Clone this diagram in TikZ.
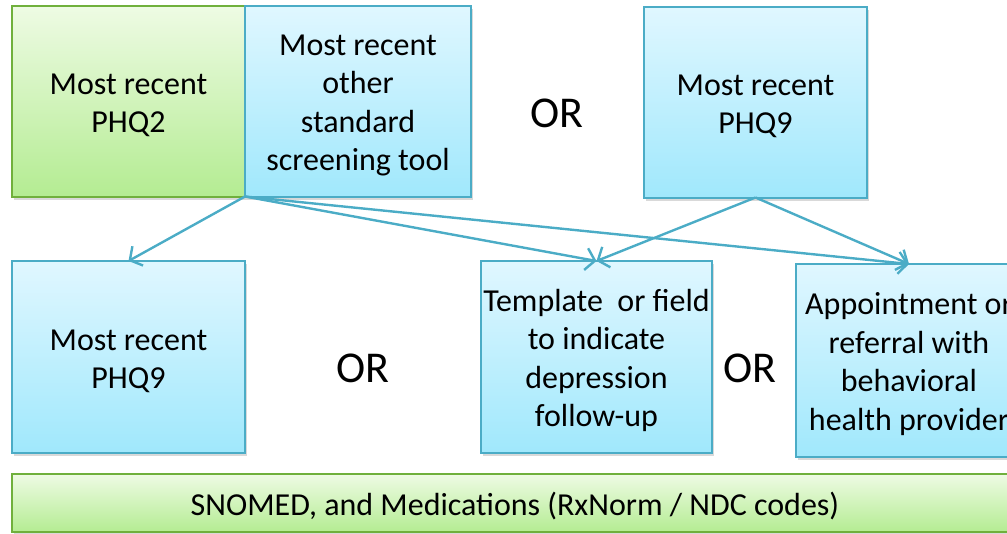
\documentclass[tikz,border=0pt]{standalone}
\usepackage{fontspec}
\setmainfont{Carlito}
\usetikzlibrary{arrows.meta,positioning,shadows}
\definecolor{scrblue}{RGB}{75,172,198}
\definecolor{scrbluetop}{RGB}{224,247,255}
\definecolor{scrbluebot}{RGB}{160,232,252}
\definecolor{scrgreen}{RGB}{112,176,60}
\definecolor{scrgreentop}{RGB}{238,251,228}
\definecolor{scrgreenbot}{RGB}{180,236,146}
\newcommand\boxfont{\fontsize{32}{38.5}\selectfont}
\newcommand\orfont{\fontsize{44}{50}\selectfont}
\newcommand\barfont{\fontsize{32}{36}\selectfont}
\newcommand\padtop{\rule{0pt}{29.5pt}}

\begin{document}
\begin{tikzpicture}[x=1pt,y=-1pt,
    bluebox/.style={draw=scrblue,line width=2pt,top color=scrbluetop,bottom color=scrbluebot,
      minimum width=226pt,minimum height=191pt,inner sep=0pt,outer sep=0pt,align=center,font=\boxfont,
      drop shadow={shadow xshift=2pt,shadow yshift=-3pt,opacity=0.3}},
    greenbox/.style={bluebox,draw=scrgreen,top color=scrgreentop,bottom color=scrgreenbot},
    ortext/.style={font=\orfont,inner sep=0pt},
    link/.style={draw=scrblue,line width=2.4pt,-{Straight Barb[length=9pt,width=22pt,line width=2.4pt]}}]
  \useasboundingbox (0,0) rectangle (1007,533);
  \clip (0,0) rectangle (1007,533);
  % screening tools
  \node[greenbox,minimum width=233pt] (phq2) at (128.5,101) {\padtop Most recent\\PHQ2};
  \node[bluebox,right=0pt of phq2] (other) {\padtop Most recent\\other\\standard\\screening tool};
  \node[ortext] (or1) at (557,113) {OR};
  \node[bluebox,minimum width=223pt] (phq9top) at (755.5,102) {\padtop Most recent\\PHQ9};
  % follow-up
  \node[bluebox,minimum width=233pt,minimum height=192pt] (phq9) at (128.5,357) {\padtop Most recent\\PHQ9};
  \node[ortext] (or2) at (363,368) {OR};
  \node[bluebox,minimum width=231pt,minimum height=192pt] (templ) at (596.5,357) {\padtop Template\ \ or field\\to indicate\\depression\\follow-up};
  \node[ortext] (or3) at (750,368) {OR};
  \node[bluebox,minimum height=193pt] (appt) at (909,360.5) {\padtop Appointment or\\referral with\\behavioral\\health provider};
  % codes
  \node[greenbox,minimum width=1006pt,minimum height=58pt,font=\barfont] (codes) at (515,503) {\padtop SNOMED, and Medications (RxNorm / NDC codes)};
  \draw[link] (other.south west) -- (phq9.north);
  \draw[link] (other.south west) -- (templ.north);
  \draw[link] (other.south west) -- (appt.north);
  \draw[link] (phq9top.south) -- (templ.north);
  \draw[link] (phq9top.south) -- (appt.north);
\end{tikzpicture}
\end{document}
